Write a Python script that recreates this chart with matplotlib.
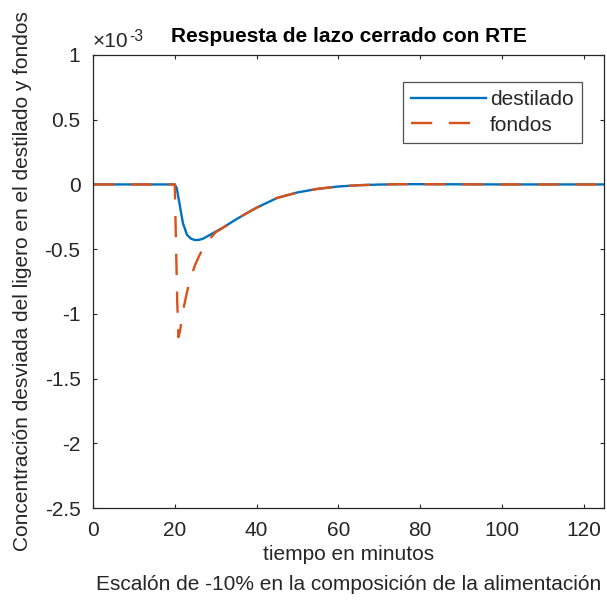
import matplotlib
matplotlib.use("Agg")
import matplotlib.pyplot as plt

plt.rcParams['font.family'] = ['Liberation Sans', 'DejaVu Sans']
plt.rcParams['axes.unicode_minus'] = False

# Closed-loop response (values in units of 1e-3)
t_destilado = [0, 20, 20.5, 21, 22, 23, 24, 25, 26, 27, 28, 30, 32, 35, 38, 40,
               43, 45, 50, 55, 60, 65, 70, 75, 80, 90, 100, 125]
destilado = [0, 0, -0.03, -0.12, -0.30, -0.39, -0.42, -0.43, -0.428, -0.418, -0.40,
             -0.365, -0.33, -0.27, -0.215, -0.18, -0.135, -0.105, -0.062, -0.034,
             -0.016, -0.006, -0.001, 0.002, 0.002, 0.001, 0, 0]

t_fondos = [0, 20, 20.3, 20.6, 20.9, 21.3, 22, 23, 24, 25, 26, 27, 28, 30, 32, 35,
            38, 40, 43, 45, 50, 55, 60, 65, 70, 75, 80, 90, 100, 125]
fondos = [0, 0, -0.45, -0.9, -1.18, -1.13, -0.98, -0.83, -0.71, -0.62, -0.55, -0.49,
          -0.44, -0.37, -0.33, -0.27, -0.215, -0.18, -0.135, -0.105, -0.062, -0.034,
          -0.016, -0.006, -0.001, 0.002, 0.002, 0.001, 0, 0]

x_ticks = [0, 20, 40, 60, 80, 100, 120]
y_ticks = [-2.5, -2, -1.5, -1, -0.5, 0, 0.5, 1]
y_labels = ['-2.5', '-2', '-1.5', '-1', '-0.5', '0', '0.5', '1']

blue = '#0072BD'
orange = '#D95319'
ink = '#262626'
fs = 15

W, H = 607, 601
fig = plt.figure(figsize=(W / 100, H / 100), dpi=100)
ax = fig.add_axes([93 / W, 1 - 508 / H, (604 - 93) / W, (508 - 55) / H])

ax.plot(t_destilado, destilado, color=blue, lw=1.7, label='destilado')
ax.plot(t_fondos, fondos, color=orange, lw=1.7, ls=(0, (9, 7)), label='fondos')

ax.set_xlim(0, 125)
ax.set_ylim(-2.5, 1)
ax.set_xticks(x_ticks)
ax.set_yticks(y_ticks)
ax.set_yticklabels(y_labels)
ax.tick_params(direction='in', length=3, labelsize=fs, colors=ink,
               labelcolor=ink, top=True, right=True, pad=9)
for s in ax.spines.values():
    s.set_color(ink)
    s.set_linewidth(0.9)

ax.set_title('Respuesta de lazo cerrado con RTE', fontsize=fs, fontweight='bold',
             pad=9, color='black')

# two-line x label
fig.text((93 + 604) / 2 / W, 1 - 555 / H, 'tiempo en minutos', fontsize=fs,
         color=ink, ha='center', va='center')
fig.text((93 + 604) / 2 / W, 1 - 585 / H,
         'Escalón de -10% en la composición de la alimentación', fontsize=fs,
         color=ink, ha='center', va='center')

ax.set_ylabel('Concentración desviada del ligero en el destilado y fondos',
              fontsize=fs, color=ink)
ax.yaxis.set_label_coords((23 - 93) / 511, 0.5)
ax.yaxis.label.set_va('center')

# axis exponent "x10^-3" with a plain hyphen in the superscript
base = ax.text(0, 1.008, '×10', transform=ax.transAxes, fontsize=fs,
               color=ink, ha='left', va='bottom')
fig.canvas.draw()
bb = base.get_window_extent()
fig.text((bb.x1 + 1) / W, (bb.y1 + 3) / H, '-3', fontsize=fs * 0.75,
         color=ink, ha='left', va='top')

leg = ax.legend(loc='upper right', bbox_to_anchor=((582 - 93) / 511, (508 - 82) / 453),
                fontsize=fs, frameon=True, fancybox=False, edgecolor=ink,
                handlelength=3.6, borderpad=0.4, labelspacing=0.3,
                handletextpad=0.2, borderaxespad=0)
leg.get_frame().set_linewidth(0.9)
for txt in leg.get_texts():
    txt.set_color(ink)

fig.savefig('out.png', dpi=100)
